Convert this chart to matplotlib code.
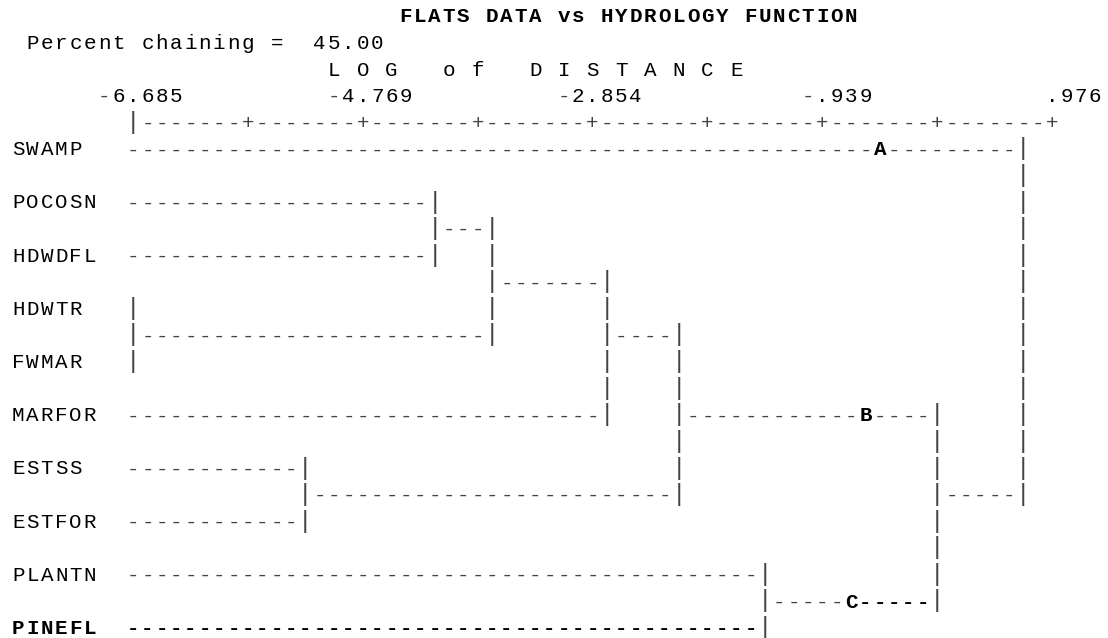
import matplotlib
matplotlib.use("Agg")
import matplotlib.pyplot as plt

# ---- data -------------------------------------------------------------
title = "FLATS DATA vs HYDROLOGY FUNCTION"
chaining = 45.00
axis_title = "L O G   o f   D I S T A N C E"
tick_labels = ["-6.685", "-4.769", "-2.854", "-.939", ".976"]
axis_min, axis_max = -6.685, 0.976

leaves = ["SWAMP", "POCOSN", "HDWDFL", "HDWTR", "FWMAR",
          "MARFOR", "ESTSS", "ESTFOR", "PLANTN", "PINEFL"]

# merges, in order: left member, right member, log distance
# (an int refers to an earlier merge)
merge_a = ["HDWTR", "ESTSS", "POCOSN", 2, 3, 4, "PLANTN", 5, "SWAMP"]
merge_b = ["FWMAR", "ESTFOR", "HDWDFL", 0, "MARFOR", 1, "PINEFL", 6, 7]
merge_d = [-6.685, -5.249, -4.171, -3.693, -2.735, -2.136, -1.418, 0.018, 0.737]

group_names = ["A", "B", "C"]
group_member = ["SWAMP", 5, 6]
group_at = [-0.461, -0.580, -0.700]

# ---- layout -------------------------------------------------------------
NCH = 64            # character columns of the distance axis
C0 = 8              # first column of the axis
R0 = 5              # first leaf line
CW, LH = 14.36, 26.6  # char width / line height in px
X0, Y0 = 11, 15.5

def col_of(v):
    return C0 + int(round((v - axis_min) / (axis_max - axis_min) * NCH))

cells = {}  # (row, col) -> (char, bold)

def put(row, col, s, bold=False):
    for i, ch in enumerate(s):
        if ch != " ":
            cells[(row, col + i)] = (ch, bold)

put(0, 27, title, bold=True)
put(1, 1, "Percent chaining = " + f"{chaining:6.2f}")
put(2, 22, axis_title)
for k, lab in enumerate(tick_labels):
    end = C0 + 16 * k + 3
    put(3, end - len(lab) + 1, lab)
put(4, C0, "|" + "".join("+" if k % 8 == 0 else "-" for k in range(1, NCH + 1)))

row_of = {name: R0 + 2 * i for i, name in enumerate(leaves)}
ncol, nrow, parent = {}, {}, {}
for k, (a, b, d) in enumerate(zip(merge_a, merge_b, merge_d)):
    ra = row_of[a] if isinstance(a, str) else nrow[a]
    rb = row_of[b] if isinstance(b, str) else nrow[b]
    ncol[k] = col_of(d)
    nrow[k] = (ra + rb) // 2
    parent[a] = k
    parent[b] = k
    for r in range(min(ra, rb), max(ra, rb) + 1):
        put(r, ncol[k], "|")

bold_leaf = "PINEFL"
for name in leaves:
    r = row_of[name]
    b = name == bold_leaf
    put(r, 0, name, bold=b)
    put(r, C0, "-" * (ncol[parent[name]] - C0), bold=b)

for k in ncol:
    if k in parent:
        c = ncol[k]
        put(nrow[k], c + 1, "-" * (ncol[parent[k]] - c - 1))

for g, m, v in zip(group_names, group_member, group_at):
    r = row_of[m] if isinstance(m, str) else nrow[m]
    c = col_of(v)
    put(r, c, g, bold=True)
    if g == "C":
        put(r, c + 1, "-" * (ncol[parent[m]] - c - 1), bold=True)

# re-draw verticals over dashes
for k, (a, b) in enumerate(zip(merge_a, merge_b)):
    ra = row_of[a] if isinstance(a, str) else nrow[a]
    rb = row_of[b] if isinstance(b, str) else nrow[b]
    for r in range(min(ra, rb), max(ra, rb) + 1):
        cells[(r, ncol[k])] = ("|", False)

# ---- draw ---------------------------------------------------------------
W, H = 1108, 638
fig = plt.figure(figsize=(W / 100, H / 100), dpi=100)
ax = fig.add_axes([0, 0, 1, 1])
ax.axis("off")
xoff = (X0 + CW / 2) / CW
ax.set_xlim(-xoff, (W - X0 - CW / 2) / CW)
ax.set_ylim((H - Y0) / LH, -Y0 / LH)

base = 6.8 / LH
for (r, c), (ch, b) in cells.items():
    if ch == "|":
        size, color = 17.5, "#444444"
    elif ch in "-+":
        size, color = 15, "#444444" if not b else "black"
    else:
        size, color = 15, "black"
    ax.text(c, r + base, ch, family="Liberation Mono", fontsize=size,
            fontweight="bold" if b else "normal", color=color,
            ha="center", va="baseline")

fig.savefig("out.png", dpi=100)
